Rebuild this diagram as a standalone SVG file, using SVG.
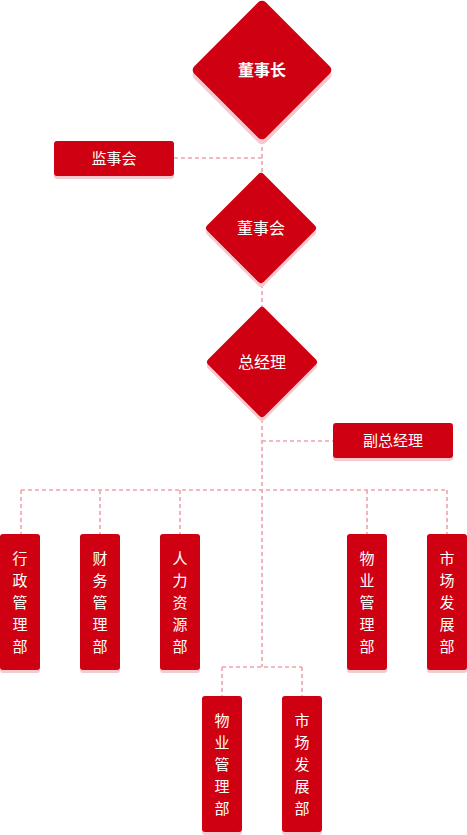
<svg xmlns="http://www.w3.org/2000/svg" width="467" height="835" viewBox="0 0 467 835">
<style>
.n{fill:#cf0011}
.s{fill:#f6c9cf}
.c{fill:none;stroke:#f0a3ab;stroke-width:1.6;stroke-dasharray:4 3}
.t{fill:#fff;font-family:"Noto Sans CJK SC","Noto Sans",sans-serif;font-size:15px;text-anchor:middle}
.d{font-size:16px}
.b{font-weight:bold}
</style>
<rect width="467" height="835" fill="#fff"/>
<g id="connectors">
<path class="c" d="M262 140V172M174 158H262M262 284V307M262 419V667M262 441H333M21 490H447M21 490V534M100 490V534M180 490V534M367 490V534M447 490V534M222 667H302M222 667V696M302 667V696"/>
</g>
<g id="chairman">
<rect class="s" x="211.5" y="24.5" width="101" height="101" rx="5" transform="rotate(45 262 75)"/>
<rect class="n" x="211.5" y="19.5" width="101" height="101" rx="5" transform="rotate(45 262 70)"/>
<text class="t d b" x="262" y="76">董事长</text>
</g>
<g id="supervisors">
<rect class="s" x="54" y="144" width="120" height="35" rx="3"/>
<rect class="n" x="54" y="141" width="120" height="35" rx="3"/>
<text class="t" x="114" y="164">监事会</text>
</g>
<g id="board">
<rect class="s" x="221" y="192" width="80" height="80" rx="4" transform="rotate(45 261 232)"/>
<rect class="n" x="221" y="188" width="80" height="80" rx="4" transform="rotate(45 261 228)"/>
<text class="t d" x="261" y="234">董事会</text>
</g>
<g id="gm">
<rect class="s" x="222" y="326" width="80" height="80" rx="4" transform="rotate(45 262 366)"/>
<rect class="n" x="222" y="322" width="80" height="80" rx="4" transform="rotate(45 262 362)"/>
<text class="t d" x="262" y="368">总经理</text>
</g>
<g id="deputy">
<rect class="s" x="333" y="426" width="120" height="35" rx="3"/>
<rect class="n" x="333" y="423" width="120" height="35" rx="3"/>
<text class="t" x="393" y="446">副总经理</text>
</g>
<g id="admin">
<rect class="s" x="0" y="537" width="40" height="136" rx="3"/>
<rect class="n" x="0" y="534" width="40" height="136" rx="3"/>
<text class="t"><tspan x="20" y="564">行</tspan><tspan x="20" y="586">政</tspan><tspan x="20" y="608">管</tspan><tspan x="20" y="630">理</tspan><tspan x="20" y="652">部</tspan></text>
</g>
<g id="finance">
<rect class="s" x="80" y="537" width="40" height="136" rx="3"/>
<rect class="n" x="80" y="534" width="40" height="136" rx="3"/>
<text class="t"><tspan x="100" y="564">财</tspan><tspan x="100" y="586">务</tspan><tspan x="100" y="608">管</tspan><tspan x="100" y="630">理</tspan><tspan x="100" y="652">部</tspan></text>
</g>
<g id="hr">
<rect class="s" x="160" y="537" width="40" height="136" rx="3"/>
<rect class="n" x="160" y="534" width="40" height="136" rx="3"/>
<text class="t"><tspan x="180" y="564">人</tspan><tspan x="180" y="586">力</tspan><tspan x="180" y="608">资</tspan><tspan x="180" y="630">源</tspan><tspan x="180" y="652">部</tspan></text>
</g>
<g id="property1">
<rect class="s" x="347" y="537" width="40" height="136" rx="3"/>
<rect class="n" x="347" y="534" width="40" height="136" rx="3"/>
<text class="t"><tspan x="367" y="564">物</tspan><tspan x="367" y="586">业</tspan><tspan x="367" y="608">管</tspan><tspan x="367" y="630">理</tspan><tspan x="367" y="652">部</tspan></text>
</g>
<g id="market1">
<rect class="s" x="427" y="537" width="40" height="136" rx="3"/>
<rect class="n" x="427" y="534" width="40" height="136" rx="3"/>
<text class="t"><tspan x="447" y="564">市</tspan><tspan x="447" y="586">场</tspan><tspan x="447" y="608">发</tspan><tspan x="447" y="630">展</tspan><tspan x="447" y="652">部</tspan></text>
</g>
<g id="property2">
<rect class="s" x="202" y="699" width="40" height="136" rx="3"/>
<rect class="n" x="202" y="696" width="40" height="136" rx="3"/>
<text class="t"><tspan x="222" y="726">物</tspan><tspan x="222" y="748">业</tspan><tspan x="222" y="770">管</tspan><tspan x="222" y="792">理</tspan><tspan x="222" y="814">部</tspan></text>
</g>
<g id="market2">
<rect class="s" x="282" y="699" width="40" height="136" rx="3"/>
<rect class="n" x="282" y="696" width="40" height="136" rx="3"/>
<text class="t"><tspan x="302" y="726">市</tspan><tspan x="302" y="748">场</tspan><tspan x="302" y="770">发</tspan><tspan x="302" y="792">展</tspan><tspan x="302" y="814">部</tspan></text>
</g>
</svg>
